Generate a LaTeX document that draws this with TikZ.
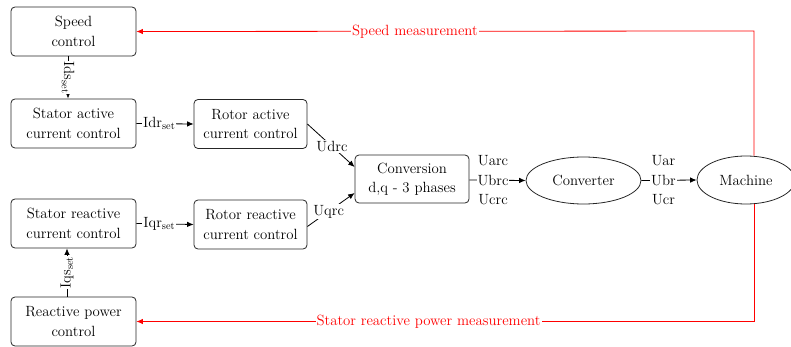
\documentclass[tikz,border=0pt]{standalone}
\usetikzlibrary{arrows.meta,shapes.geometric}
\begin{document}
\begin{tikzpicture}[x=1pt,y=-1pt,
  every node/.style={font=\fontsize{14.8}{19.5}\selectfont},
  box/.style={draw=black!85,line width=0.8pt,rounded corners=4pt,align=center,inner sep=0pt},
  ell/.style={draw=black!85,line width=0.8pt,ellipse,inner sep=0pt},
  arr/.style={line width=0.8pt,-{Latex[length=6.5pt,width=5.5pt]}},
  redarr/.style={red,line width=0.8pt,-{Latex[length=6.5pt,width=5.5pt]}},
  lab/.style={fill=white,inner sep=1pt,align=center}]
\useasboundingbox (0,0) rectangle (791,347);
\begin{scope}
\clip (0,0) rectangle (791,347);
\node[box,minimum width=125pt,minimum height=49pt] (speed) at (73.5,31.5) {Speed\\control};
\node[box,minimum width=125pt,minimum height=49pt] (sa) at (73.5,123.5) {Stator active\\current control};
\node[box,minimum width=113pt,minimum height=49pt] (ra) at (250.5,124) {Rotor active\\current control};
\node[box,minimum width=125pt,minimum height=49pt] (sr) at (73.5,223.5) {Stator reactive\\current control};
\node[box,minimum width=113pt,minimum height=49pt] (rr) at (250.5,224.5) {Rotor reactive\\current control};
\node[box,minimum width=125pt,minimum height=49pt] (rp) at (73.5,321.5) {Reactive power\\control};
\node[box,minimum width=114pt,minimum height=48pt] (conv) at (412,179) {Conversion\\d,q - 3 phases};
\node[ell,minimum width=115pt,minimum height=47pt] (cvt) at (583.5,180.5) {Converter};
\node[ell,minimum width=98pt,minimum height=48pt] (mach) at (746,180) {Machine};

\draw[arr] ([xshift=-5.5pt]speed.south) -- node[lab,rotate=-90,inner sep=0.5pt] {Ids\textsubscript{set}} ([xshift=-5.5pt]sa.north);
\draw[arr] ([xshift=-6.5pt]rp.north) -- node[lab,rotate=90,inner sep=0.5pt] {Iqs\textsubscript{set}} ([xshift=-6.5pt]sr.south);
\draw[arr] (sa.east) -- node[lab,pos=0.4] {Idr\textsubscript{set}} (ra.west);
\draw[arr] (sr.east) -- node[lab,pos=0.4] {Iqr\textsubscript{set}} (rr.west);
\draw[arr] (ra.east) -- node[lab,pos=0.52] {Udrc} ([yshift=12pt]conv.west);
\draw[arr] ([yshift=-2pt]rr.east) -- node[lab,pos=0.45] {Uqrc} ([yshift=-14pt]conv.west);
\draw[arr] ([yshift=-1pt]conv.east) -- node[lab,pos=0.42,inner sep=0.5pt] {Uarc\\Ubrc\\Ucrc} (cvt.west);
\draw[arr] (cvt.east) -- node[lab,pos=0.4,inner sep=1.5pt] {Uar\\Ubr\\Ucr} (mach.west);

\coordinate (tr) at (754,31);
\coordinate (br) at (754,321.5);
\draw[redarr] ([xshift=8pt]mach.north) -- (tr) -- node[lab,pos=0.549,text=red] {Speed measurement} (speed.east);
\draw[redarr] ([xshift=8pt]mach.south) -- (br) -- node[lab,pos=0.527,text=red] {Stator reactive power measurement} (rp.east);
\end{scope}
\end{tikzpicture}
\end{document}
